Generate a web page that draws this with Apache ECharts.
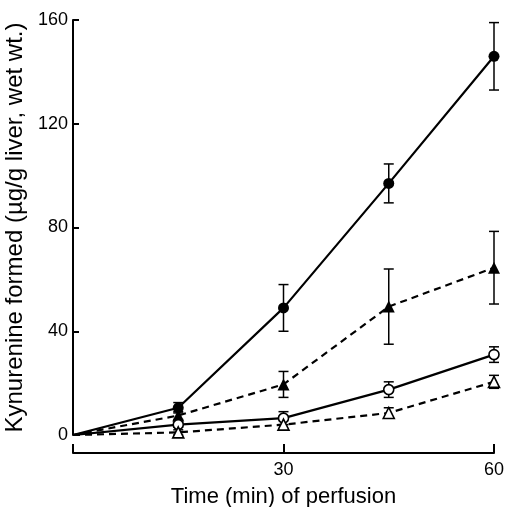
<!DOCTYPE html>
<html>
<head>
<meta charset="utf-8">
<script src="https://cdn.jsdelivr.net/npm/echarts@6/dist/echarts.min.js"></script>
<style>
  html, body { margin: 0; padding: 0; background: #fff; }
  #chart { width: 509px; height: 507px; }
</style>
</head>
<body>
<div id="chart"></div>
<script>
// time points (min)
const times = [0, 15, 30, 45, 60];
const yTicks = [0, 40, 80, 120, 160];

// kynurenine formed (µg/g liver) and error bar half-widths
const filledCircle = [0, 10.5, 49, 97, 146];
const filledCircleErr = [0, 2, 9, 7.5, 13];
const filledTriangle = [0, 7.5, 19.5, 49.5, 64.5];
const filledTriangleErr = [0, 1.5, 5, 14.5, 14];
const openCircle = [0, 4, 6.5, 17.5, 31];
const openCircleErr = [0, 1, 2.5, 3, 3];
const openTriangle = [0, 1, 4, 8.5, 20.5];
const openTriangleErr = [0, 1, 1.5, 2, 2.5];

const font = 'Liberation Sans, Arial, Helvetica, sans-serif';

function lineSeries(values, symbol, size, filled, dashed) {
  return {
    type: 'line',
    // no marker at time zero
    data: times.map((t, i) => i === 0 ? { value: [t, values[i]], symbol: 'none' } : [t, values[i]]),
    symbol: symbol,
    symbolSize: size,
    showAllSymbol: true,
    z: 3,
    lineStyle: { color: '#000', width: 2.2, type: dashed ? [7, 5] : 'solid' },
    itemStyle: {
      color: filled ? '#000' : '#fff',
      borderColor: '#000',
      borderWidth: filled ? 0 : 1.6
    }
  };
}

function errorSeries(values, errs) {
  const data = [];
  times.forEach((t, i) => {
    if (errs[i] > 0) data.push([t, values[i] - errs[i], values[i] + errs[i]]);
  });
  return {
    type: 'custom',
    z: 2,
    data: data,
    renderItem: function (params, api) {
      const lo = api.coord([api.value(0), api.value(1)]);
      const hi = api.coord([api.value(0), api.value(2)]);
      const w = 5;
      const style = { stroke: '#000', lineWidth: 1.5 };
      return {
        type: 'group',
        children: [
          { type: 'line', shape: { x1: lo[0], y1: lo[1], x2: hi[0], y2: hi[1] }, style: style },
          { type: 'line', shape: { x1: lo[0] - w, y1: lo[1], x2: lo[0] + w, y2: lo[1] }, style: style },
          { type: 'line', shape: { x1: hi[0] - w, y1: hi[1], x2: hi[0] + w, y2: hi[1] }, style: style }
        ]
      };
    }
  };
}

const chart = echarts.init(document.getElementById('chart'));

const option = {
  animation: false,
  backgroundColor: '#fff',
  grid: { left: 73, right: 15, top: 20, bottom: 72, outerBoundsMode: 'none', containLabel: false },
  xAxis: {
    type: 'value',
    min: 0,
    max: 60,
    interval: 30,
    offset: 18,
    name: 'Time (min) of perfusion',
    nameLocation: 'middle',
    nameGap: 33,
    nameTextStyle: { color: '#000', fontSize: 22, fontFamily: font },
    axisLine: { show: true, onZero: false, lineStyle: { color: '#000', width: 2 } },
    axisTick: { show: true, inside: true, length: 9, lineStyle: { color: '#000', width: 2 } },
    axisLabel: {
      color: '#000', fontSize: 18, fontFamily: font, margin: 8,
      formatter: v => v === 0 ? '' : String(v)
    },
    splitLine: { show: false }
  },
  yAxis: {
    type: 'value',
    min: yTicks[0],
    max: yTicks[yTicks.length - 1],
    interval: 40,
    name: 'Kynurenine formed (µg/g liver, wet wt.)',
    nameLocation: 'middle',
    nameGap: 38,
    nameTextStyle: { color: '#000', fontSize: 24, fontFamily: font },
    axisLine: { show: true, onZero: false, lineStyle: { color: '#000', width: 2 } },
    axisTick: { show: true, inside: true, length: 6, lineStyle: { color: '#000', width: 2 } },
    axisLabel: { color: '#000', fontSize: 18, fontFamily: font, margin: 5 },
    splitLine: { show: false }
  },
  series: [
    errorSeries(filledCircle, filledCircleErr),
    errorSeries(filledTriangle, filledTriangleErr),
    errorSeries(openCircle, openCircleErr),
    errorSeries(openTriangle, openTriangleErr),
    lineSeries(filledCircle, 'circle', 11, true, false),
    lineSeries(filledTriangle, 'triangle', 12, true, true),
    lineSeries(openCircle, 'circle', 10, false, false),
    lineSeries(openTriangle, 'triangle', 11, false, true)
  ]
};

chart.setOption(option);
window.addEventListener('resize', function () {
  chart.resize();
});
</script>
</body>
</html>
